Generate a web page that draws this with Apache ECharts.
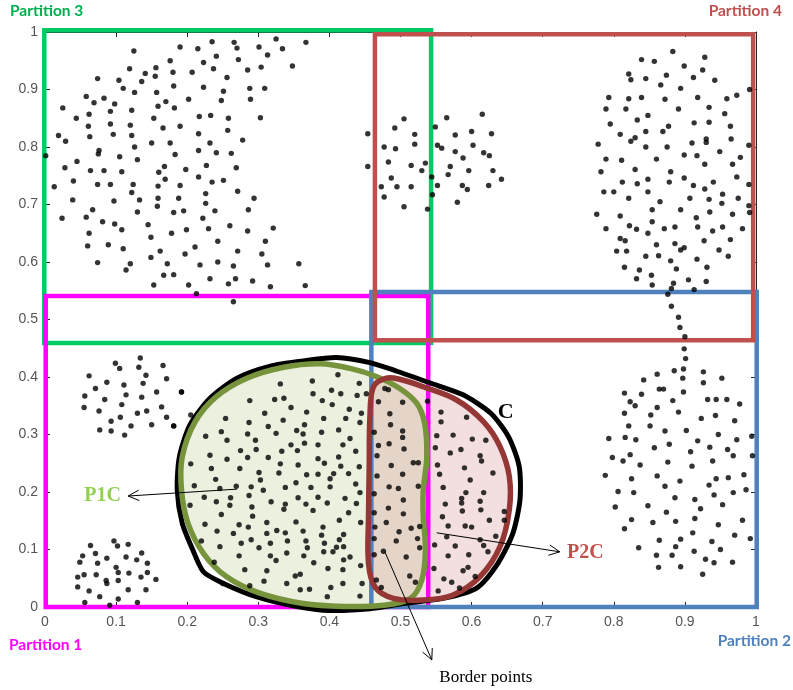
<!DOCTYPE html>
<html>
<head>
<meta charset="utf-8">
<script src="https://cdn.jsdelivr.net/npm/echarts@6/dist/echarts.min.js"></script>
<style>
  html, body { margin: 0; padding: 0; background: #fff; }
  #chart { width: 793px; height: 690px; }
</style>
</head>
<body>
<div id="chart"></div>
<script>
// ---- data points (x, y in axis units) ----
var topLeftPts = [
  [0.235,0.983],[0.266,0.982],[0.270,0.972],[0.325,0.988],[0.301,0.974],[0.334,0.971],[0.367,0.982],[0.190,0.974],
  [0.215,0.971],[0.125,0.967],[0.241,0.958],[0.313,0.960],[0.176,0.950],[0.223,0.947],[0.272,0.952],[0.348,0.941],
  [0.304,0.939],[0.119,0.936],[0.156,0.938],[0.237,0.936],[0.285,0.934],[0.141,0.928],[0.180,0.930],[0.207,0.930],
  [0.155,0.923],[0.256,0.921],[0.074,0.919],[0.104,0.916],[0.136,0.914],[0.181,0.906],[0.223,0.904],[0.288,0.902],
  [0.309,0.902],[0.110,0.902],[0.126,0.895],[0.157,0.895],[0.251,0.897],[0.058,0.888],[0.083,0.885],[0.069,0.877],
  [0.098,0.875],[0.159,0.871],[0.170,0.879],[0.182,0.868],[0.202,0.883],[0.248,0.881],[0.289,0.883],[0.122,0.864],
  [0.092,0.862],[0.025,0.868],[0.062,0.857],[0.044,0.850],[0.153,0.850],[0.217,0.853],[0.233,0.855],[0.258,0.850],
  [0.303,0.851],[0.092,0.840],[0.120,0.838],[0.061,0.836],[0.166,0.833],[0.190,0.836],[0.257,0.829],[0.216,0.823],
  [0.019,0.820],[0.063,0.818],[0.096,0.822],[0.122,0.820],[0.029,0.810],[0.150,0.807],[0.176,0.807],[0.232,0.807],
  [0.278,0.812],[0.126,0.800],[0.076,0.794],[0.075,0.788],[0.105,0.783],[0.183,0.787],[0.216,0.794],[0.241,0.790],
  [0.262,0.789],[0.045,0.775],[0.130,0.778],[0.028,0.764],[0.064,0.759],[0.083,0.759],[0.108,0.757],[0.168,0.766],
  [0.160,0.756],[0.198,0.761],[0.227,0.768],[0.269,0.764],[0.001,0.785],[0.013,0.731],[0.040,0.741],[0.074,0.735],
  [0.092,0.735],[0.124,0.735],[0.169,0.744],[0.159,0.732],[0.190,0.733],[0.216,0.748],[0.235,0.739],[0.251,0.742],
  [0.122,0.721],[0.271,0.723],[0.226,0.719],[0.039,0.708],[0.097,0.706],[0.133,0.708],[0.159,0.711],[0.188,0.711],
  [0.226,0.702],[0.294,0.711],[0.067,0.691],[0.130,0.687],[0.158,0.697],[0.181,0.686],[0.195,0.689],[0.239,0.689],
  [0.286,0.691],[0.024,0.676],[0.058,0.678],[0.081,0.670],[0.098,0.666],[0.145,0.665],[0.108,0.656],[0.062,0.650],
  [0.199,0.656],[0.178,0.650],[0.230,0.658],[0.260,0.663],[0.285,0.654],[0.321,0.659],[0.222,0.676],[0.149,0.643],
  [0.060,0.628],[0.089,0.630],[0.110,0.623],[0.162,0.619],[0.211,0.626],[0.243,0.636],[0.310,0.636],[0.271,0.619],
  [0.197,0.614],[0.305,0.614],[0.149,0.608],[0.074,0.599],[0.120,0.597],[0.114,0.586],[0.172,0.597],[0.218,0.595],
  [0.243,0.600],[0.265,0.593],[0.313,0.595],[0.357,0.597],[0.167,0.577],[0.181,0.578],[0.232,0.571],[0.268,0.571],
  [0.258,0.562],[0.292,0.567],[0.317,0.557],[0.153,0.560],[0.202,0.560],[0.366,0.559],[0.213,0.545],[0.265,0.531]
];
var topMidPts = [
  [0.454,0.823],[0.454,0.766],[0.505,0.849],[0.492,0.833],[0.520,0.822],[0.520,0.805],[0.477,0.800],[0.493,0.797],
  [0.483,0.774],[0.515,0.768],[0.530,0.759],[0.535,0.772],[0.487,0.746],[0.473,0.731],[0.495,0.731],[0.515,0.731],
  [0.477,0.713],[0.505,0.696],[0.538,0.692],[0.545,0.717],[0.544,0.748],[0.549,0.835],[0.565,0.851],[0.552,0.803],
  [0.558,0.798],[0.577,0.821],[0.600,0.827],[0.615,0.857],[0.628,0.823],[0.602,0.803],[0.577,0.792],[0.588,0.781],
  [0.617,0.790],[0.625,0.785],[0.570,0.766],[0.567,0.752],[0.596,0.759],[0.630,0.759],[0.642,0.744],[0.552,0.733],
  [0.587,0.733],[0.594,0.726],[0.624,0.733],[0.580,0.704]
];
var topRightPts = [
  [0.883,0.966],[0.839,0.952],[0.857,0.949],[0.928,0.956],[0.899,0.941],[0.925,0.934],[0.821,0.927],[0.824,0.917],
  [0.845,0.919],[0.874,0.925],[0.912,0.921],[0.942,0.916],[0.866,0.908],[0.894,0.902],[0.793,0.886],[0.821,0.884],
  [0.839,0.886],[0.872,0.883],[0.918,0.886],[0.959,0.884],[0.973,0.890],[0.789,0.866],[0.817,0.866],[0.891,0.866],
  [0.934,0.869],[0.956,0.858],[0.848,0.855],[0.833,0.847],[0.795,0.840],[0.877,0.836],[0.913,0.842],[0.934,0.843],
  [0.964,0.836],[0.845,0.827],[0.869,0.827],[0.809,0.822],[0.830,0.816],[0.824,0.810],[0.930,0.814],[0.930,0.808],
  [0.965,0.814],[0.778,0.805],[0.910,0.807],[0.845,0.800],[0.875,0.800],[0.949,0.792],[0.990,0.803],[0.789,0.779],
  [0.811,0.777],[0.860,0.779],[0.899,0.786],[0.917,0.785],[0.978,0.782],[0.782,0.757],[0.830,0.761],[0.880,0.757],
  [0.928,0.770],[0.967,0.770],[0.848,0.744],[0.812,0.739],[0.833,0.736],[0.878,0.739],[0.899,0.746],[0.973,0.748],
  [0.912,0.733],[0.928,0.727],[0.940,0.739],[0.990,0.735],[0.786,0.722],[0.800,0.722],[0.848,0.722],[0.821,0.711],
  [0.865,0.705],[0.907,0.711],[0.934,0.709],[0.953,0.718],[0.952,0.702],[0.975,0.711],[0.854,0.691],[0.894,0.691],
  [0.935,0.687],[0.990,0.698],[0.776,0.683],[0.809,0.680],[0.916,0.677],[0.967,0.683],[0.854,0.670],[0.822,0.663],
  [0.832,0.657],[0.886,0.661],[0.918,0.661],[0.953,0.661],[0.789,0.658],[0.871,0.658],[0.939,0.654],[0.981,0.658],
  [0.848,0.650],[0.809,0.641],[0.816,0.637],[0.927,0.637],[0.964,0.639],[0.860,0.630],[0.886,0.632],[0.894,0.621],
  [0.899,0.625],[0.804,0.619],[0.818,0.619],[0.948,0.621],[0.845,0.610],[0.863,0.611],[0.961,0.610],[0.880,0.602],
  [0.917,0.605],[0.815,0.591],[0.836,0.586],[0.888,0.588],[0.931,0.591],[0.832,0.571],[0.853,0.577],[0.854,0.560],
  [0.884,0.563],[0.905,0.569],[0.930,0.566],[0.881,0.554],[0.913,0.552],[0.991,0.900],[0.991,0.686]
];
var bridgePts = [
  [0.876,0.544],[0.881,0.523],[0.891,0.504],[0.893,0.486],[0.900,0.470],[0.899,0.449],[0.901,0.432]
];
var bottomRightPts = [
  [0.898,0.414],[0.885,0.411],[0.861,0.405],[0.842,0.395],[0.897,0.398],[0.926,0.409],[0.926,0.390],[0.952,0.398],
  [0.864,0.379],[0.870,0.379],[0.815,0.372],[0.839,0.370],[0.898,0.374],[0.823,0.357],[0.830,0.350],[0.883,0.359],
  [0.932,0.361],[0.944,0.361],[0.959,0.361],[0.977,0.353],[0.861,0.347],[0.815,0.337],[0.852,0.334],[0.891,0.339],
  [0.923,0.328],[0.943,0.333],[0.970,0.324],[0.821,0.315],[0.851,0.315],[0.872,0.306],[0.902,0.307],[0.793,0.293],
  [0.816,0.295],[0.831,0.291],[0.918,0.289],[0.947,0.300],[0.973,0.291],[0.994,0.297],[0.857,0.277],[0.878,0.283],
  [0.935,0.278],[0.960,0.274],[0.798,0.260],[0.823,0.265],[0.813,0.254],[0.837,0.247],[0.876,0.252],[0.908,0.270],
  [0.910,0.245],[0.939,0.254],[0.968,0.263],[0.995,0.263],[0.788,0.229],[0.825,0.223],[0.861,0.228],[0.893,0.219],
  [0.934,0.212],[0.944,0.223],[0.961,0.225],[0.983,0.230],[0.806,0.201],[0.828,0.199],[0.872,0.210],[0.941,0.195],
  [0.968,0.199],[0.986,0.204],[0.802,0.174],[0.848,0.176],[0.886,0.190],[0.914,0.187],[0.922,0.171],[0.953,0.178],
  [0.874,0.165],[0.825,0.152],[0.855,0.147],[0.887,0.149],[0.914,0.154],[0.947,0.143],[0.981,0.151],[0.815,0.136],
  [0.911,0.129],[0.970,0.125],[0.992,0.119],[0.864,0.116],[0.894,0.118],[0.835,0.103],[0.887,0.105],[0.938,0.114],
  [0.860,0.090],[0.882,0.090],[0.913,0.097],[0.950,0.100],[0.929,0.083],[0.941,0.077],[0.967,0.078],[0.863,0.069],
  [0.894,0.070],[0.925,0.057]
];
var leftUpperPts = [
  [0.099,0.424],[0.105,0.415],[0.134,0.433],[0.132,0.417],[0.166,0.420],[0.062,0.402],[0.142,0.403],[0.171,0.397],
  [0.087,0.391],[0.111,0.386],[0.138,0.389],[0.071,0.380],[0.157,0.374],[0.192,0.374],[0.056,0.367],[0.114,0.369],
  [0.136,0.365],[0.084,0.361],[0.108,0.352],[0.055,0.347],[0.076,0.341],[0.130,0.337],[0.143,0.341],[0.164,0.348],
  [0.106,0.330],[0.093,0.323],[0.171,0.330],[0.121,0.315],[0.150,0.317],[0.181,0.315],[0.077,0.308],[0.093,0.306],
  [0.112,0.299],[0.205,0.334]
];
var leftLowerPts = [
  [0.097,0.115],[0.064,0.107],[0.102,0.106],[0.117,0.109],[0.053,0.089],[0.071,0.093],[0.136,0.094],[0.049,0.078],
  [0.074,0.076],[0.087,0.085],[0.114,0.087],[0.129,0.082],[0.100,0.069],[0.144,0.076],[0.055,0.056],[0.072,0.056],
  [0.103,0.060],[0.118,0.059],[0.135,0.052],[0.144,0.060],[0.046,0.052],[0.086,0.046],[0.103,0.046],[0.156,0.048],
  [0.046,0.035],[0.087,0.041],[0.117,0.030],[0.142,0.030],[0.062,0.028],[0.077,0.018],[0.103,0.014],[0.130,0.008],
  [0.056,0.008],[0.091,0.003]
];
var centralPts = [
  [0.412,0.404],[0.376,0.393],[0.331,0.388],[0.442,0.389],[0.403,0.377],[0.377,0.371],[0.288,0.359],[0.323,0.361],
  [0.336,0.363],[0.390,0.359],[0.416,0.371],[0.439,0.368],[0.452,0.371],[0.469,0.357],[0.478,0.380],[0.483,0.378],
  [0.404,0.352],[0.346,0.347],[0.368,0.339],[0.428,0.344],[0.445,0.337],[0.309,0.337],[0.254,0.328],[0.287,0.321],
  [0.335,0.325],[0.365,0.317],[0.392,0.328],[0.423,0.328],[0.443,0.321],[0.485,0.336],[0.486,0.317],[0.503,0.356],
  [0.538,0.358],[0.557,0.339],[0.557,0.322],[0.593,0.330],[0.248,0.305],[0.226,0.297],[0.285,0.301],[0.314,0.314],
  [0.325,0.302],[0.354,0.307],[0.363,0.301],[0.389,0.304],[0.413,0.308],[0.429,0.293],[0.463,0.304],[0.503,0.306],
  [0.503,0.295],[0.551,0.298],[0.574,0.299],[0.601,0.292],[0.620,0.290],[0.256,0.290],[0.296,0.290],[0.346,0.282],
  [0.365,0.285],[0.384,0.282],[0.419,0.282],[0.484,0.284],[0.469,0.281],[0.549,0.277],[0.585,0.274],[0.505,0.275],
  [0.232,0.264],[0.275,0.272],[0.297,0.274],[0.314,0.260],[0.333,0.271],[0.355,0.272],[0.384,0.258],[0.413,0.261],
  [0.437,0.271],[0.256,0.257],[0.285,0.260],[0.331,0.249],[0.356,0.247],[0.393,0.250],[0.416,0.245],[0.442,0.244],
  [0.467,0.263],[0.487,0.246],[0.518,0.251],[0.525,0.251],[0.552,0.247],[0.570,0.268],[0.590,0.242],[0.612,0.263],
  [0.614,0.254],[0.205,0.249],[0.234,0.241],[0.274,0.241],[0.301,0.234],[0.329,0.233],[0.368,0.230],[0.384,0.231],
  [0.406,0.232],[0.427,0.232],[0.467,0.228],[0.503,0.231],[0.555,0.231],[0.630,0.233],[0.240,0.222],[0.303,0.221],
  [0.353,0.216],[0.401,0.223],[0.437,0.214],[0.210,0.211],[0.246,0.206],[0.269,0.210],[0.290,0.209],[0.307,0.203],
  [0.338,0.208],[0.374,0.208],[0.401,0.209],[0.484,0.209],[0.497,0.206],[0.525,0.210],[0.560,0.208],[0.598,0.221],
  [0.617,0.199],[0.586,0.189],[0.224,0.191],[0.261,0.190],[0.287,0.194],[0.356,0.190],[0.384,0.191],[0.422,0.189],
  [0.443,0.199],[0.463,0.197],[0.504,0.186],[0.592,0.199],[0.612,0.184],[0.241,0.183],[0.318,0.183],[0.338,0.179],
  [0.367,0.179],[0.397,0.181],[0.438,0.180],[0.483,0.172],[0.563,0.179],[0.586,0.181],[0.587,0.167],[0.204,0.177],
  [0.260,0.177],[0.291,0.174],[0.336,0.170],[0.377,0.168],[0.427,0.164],[0.463,0.164],[0.504,0.162],[0.613,0.169],
  [0.646,0.166],[0.248,0.161],[0.292,0.158],[0.353,0.148],[0.414,0.151],[0.444,0.147],[0.480,0.147],[0.559,0.157],
  [0.591,0.141],[0.625,0.151],[0.225,0.144],[0.273,0.143],[0.286,0.139],[0.312,0.147],[0.326,0.133],[0.363,0.132],
  [0.391,0.139],[0.464,0.139],[0.515,0.137],[0.527,0.140],[0.567,0.141],[0.600,0.139],[0.646,0.151],[0.242,0.132],
  [0.265,0.128],[0.312,0.128],[0.338,0.129],[0.389,0.125],[0.420,0.126],[0.498,0.131],[0.463,0.119],[0.565,0.122],
  [0.612,0.117],[0.634,0.123],[0.220,0.115],[0.276,0.111],[0.290,0.117],[0.317,0.111],[0.341,0.115],[0.367,0.115],
  [0.393,0.111],[0.410,0.104],[0.414,0.117],[0.494,0.115],[0.524,0.119],[0.246,0.105],[0.301,0.103],[0.340,0.094],
  [0.369,0.103],[0.420,0.105],[0.476,0.097],[0.527,0.103],[0.548,0.108],[0.577,0.106],[0.617,0.107],[0.238,0.078],
  [0.273,0.089],[0.317,0.089],[0.325,0.081],[0.364,0.089],[0.378,0.077],[0.392,0.096],[0.405,0.096],[0.420,0.082],
  [0.429,0.087],[0.508,0.087],[0.567,0.089],[0.596,0.091],[0.623,0.096],[0.463,0.091],[0.281,0.065],[0.312,0.063],
  [0.352,0.054],[0.359,0.057],[0.398,0.067],[0.419,0.065],[0.444,0.072],[0.547,0.067],[0.588,0.063],[0.595,0.069],
  [0.466,0.047],[0.513,0.054],[0.561,0.049],[0.605,0.053],[0.250,0.041],[0.288,0.037],[0.308,0.045],[0.340,0.041],
  [0.372,0.031],[0.402,0.034],[0.419,0.041],[0.446,0.041],[0.473,0.034],[0.521,0.043],[0.553,0.028],[0.572,0.043],
  [0.583,0.033],[0.359,0.030],[0.443,0.019],[0.397,0.018],[0.192,0.374],[0.181,0.315]
];

// ---- partition boxes: [xmin, xmax, ymin, ymax] ----
var partition1 = [0.001, 0.539, 0.000, 0.541];
var partition2 = [0.459, 1.001, 0.000, 0.548];
var partition3 = [-0.001, 0.543, 0.459, 1.003];
var partition4 = [0.464, 0.996, 0.464, 0.996];

// ---- hand drawn regions (outline vertices) ----
var clusterC = [
  [0.410,0.434],[0.363,0.428],[0.317,0.419],[0.270,0.398],[0.232,0.363],[0.204,0.317],[0.189,0.261],[0.186,0.203],
  [0.193,0.146],[0.208,0.099],[0.223,0.061],[0.251,0.041],[0.297,0.018],[0.354,0.001],[0.401,-0.006],[0.457,-0.003],
  [0.504,0.006],[0.560,0.015],[0.607,0.033],[0.637,0.076],[0.658,0.128],[0.668,0.186],[0.667,0.244],[0.652,0.296],
  [0.627,0.337],[0.588,0.369],[0.541,0.390],[0.495,0.410],[0.457,0.425]
];
var regionP1C = [
  [0.387,0.423],[0.336,0.417],[0.284,0.398],[0.241,0.366],[0.211,0.322],[0.193,0.261],[0.192,0.203],[0.201,0.146],
  [0.223,0.093],[0.255,0.053],[0.302,0.024],[0.363,0.006],[0.420,0.001],[0.476,0.003],[0.514,0.015],[0.530,0.047],
  [0.535,0.099],[0.532,0.157],[0.532,0.203],[0.537,0.261],[0.534,0.319],[0.523,0.354],[0.499,0.380],[0.466,0.401],
  [0.429,0.415]
];
var regionP2C = [
  [0.480,0.398],[0.462,0.383],[0.457,0.331],[0.456,0.244],[0.455,0.157],[0.455,0.076],[0.464,0.035],[0.490,0.015],
  [0.532,0.012],[0.574,0.021],[0.612,0.053],[0.640,0.105],[0.653,0.169],[0.653,0.227],[0.640,0.279],[0.617,0.322],
  [0.579,0.360],[0.532,0.383],[0.499,0.396]
];

// ---- annotations: label text, label anchor, arrow tail, arrow head ----
var notes = [
  { text: 'C',             at: [0.648, 0.339],  from: null,           to: null },
  { text: 'P1C',           at: [0.081, 0.193],  from: [0.270, 0.205], to: [0.117, 0.193] },
  { text: 'P2C',           at: [0.760, 0.094],  from: [0.551, 0.129], to: [0.724, 0.096] },
  { text: 'Border points', at: [0.620, -0.122], from: [0.478, 0.096], to: [0.544, -0.092] }
];
var noteColors = ['#000', '#92d050', '#c0504d', '#000'];
var noteFonts = ['bold 22px', 'bold 20px', 'bold 20px', '17px'];

var tickLabels = ['0','0.1','0.2','0.3','0.4','0.5','0.6','0.7','0.8','0.9','1'];

var chart = echarts.init(document.getElementById('chart'));

function shape(name, pts, z, style, smooth) {
  return {
    type: 'custom', name: name, coordinateSystem: 'cartesian2d', clip: false, silent: true, z: z,
    data: [pts[0]],
    renderItem: function (params, api) {
      return {
        type: 'polygon',
        shape: { points: pts.map(function (p) { return api.coord(p); }), smooth: smooth || 0 },
        style: style
      };
    }
  };
}

function box(name, b, color, z) {
  var pts = [[b[0], b[2]], [b[1], b[2]], [b[1], b[3]], [b[0], b[3]]];
  return shape(name, pts, z, { fill: 'none', stroke: color, lineWidth: 4.5, lineJoin: 'miter' }, 0);
}

function arrowHead(tip, tail, len) {
  var a = Math.atan2(tail[1] - tip[1], tail[0] - tip[0]);
  var w = 0.45;
  return [
    [tip[0] + len * Math.cos(a + w), tip[1] + len * Math.sin(a + w)],
    tip,
    [tip[0] + len * Math.cos(a - w), tip[1] + len * Math.sin(a - w)]
  ];
}

function axisBase(pos, show) {
  return {
    type: 'value', min: 0, max: 1, interval: 0.1, position: pos,
    axisLine: { show: true, onZero: false, lineStyle: { color: '#262626', width: 1 } },
    axisTick: { show: true, inside: true, length: 5, lineStyle: { color: '#262626' } },
    splitLine: { show: false },
    axisLabel: {
      show: show, color: '#555', fontSize: 14, fontFamily: 'Liberation Sans',
      formatter: function (v) { return tickLabels[Math.round(v * 10)]; }
    }
  };
}

var xBottom = axisBase('bottom', true); xBottom.axisLabel.margin = 8;
var yLeft = axisBase('left', true); yLeft.axisLabel.margin = 7;

var dotStyle = { color: '#000' };
var allPts = [].concat(topLeftPts, topMidPts, topRightPts, bridgePts, bottomRightPts, leftUpperPts, leftLowerPts, centralPts);

var option = {
  animation: false,
  grid: { left: 45, top: 32, width: 711, height: 575 },
  xAxis: [xBottom, axisBase('top', false)],
  yAxis: [yLeft, axisBase('right', false)],
  series: [
    shape('P1C fill', regionP1C, 1, { fill: '#ebf1de', stroke: 'none' }, 0.35),
    shape('P2C fill', regionP2C, 2, { fill: 'rgba(215,150,148,0.30)', stroke: 'none' }, 0.35),
    box('Partition 3', partition3, '#00cc66', 3),
    box('Partition 1', partition1, '#ff00ff', 4),
    box('Partition 2', partition2, '#4f81bd', 5),
    box('Partition 4', partition4, '#c0504d', 6),
    shape('C', clusterC, 7, { fill: 'none', stroke: '#000', lineWidth: 5 }, 0.25),
    shape('P1C', regionP1C, 8, { fill: 'none', stroke: '#77933c', lineWidth: 5.5 }, 0.35),
    shape('P2C', regionP2C, 9, { fill: 'none', stroke: '#953735', lineWidth: 5.5 }, 0.35),
    {
      type: 'scatter', name: 'points', data: allPts, symbolSize: 5.4, z: 10,
      itemStyle: dotStyle, silent: true
    },
    {
      type: 'custom', name: 'notes', coordinateSystem: 'cartesian2d', clip: false, silent: true, z: 11,
      data: notes.map(function (n) { return n.at; }),
      renderItem: function (params, api) {
        var i = params.dataIndex;
        var n = notes[i];
        var p = api.coord(n.at);
        var kids = [{
          type: 'text',
          style: {
            x: p[0], y: p[1], text: n.text, align: 'center', verticalAlign: 'middle',
            fill: noteColors[i], font: noteFonts[i] + ' "Liberation Serif"'
          }
        }];
        if (n.from) {
          var a = api.coord(n.from), b = api.coord(n.to);
          kids.push({ type: 'line', shape: { x1: a[0], y1: a[1], x2: b[0], y2: b[1] },
                      style: { stroke: '#000', lineWidth: 1 } });
          kids.push({ type: 'polyline', shape: { points: arrowHead(b, a, 12) },
                      style: { stroke: '#000', lineWidth: 1, fill: 'none' } });
        }
        return { type: 'group', children: kids };
      }
    }
  ],
  graphic: [
    { type: 'text', left: 10, top: 3, style: { text: 'Partition 3', fill: '#00b050', font: 'bold 15.5px Lato' } },
    { type: 'text', right: 11, top: 3, style: { text: 'Partition 4', fill: '#c0504d', font: 'bold 15.5px Lato' } },
    { type: 'text', left: 9, top: 637, style: { text: 'Partition 1', fill: '#ff00ff', font: 'bold 15.5px Lato' } },
    { type: 'text', right: 2, top: 633, style: { text: 'Partition 2', fill: '#4f81bd', font: 'bold 15.5px Lato' } }
  ]
};

chart.setOption(option);
window.addEventListener('resize', function () { chart.resize(); });
</script>
</body>
</html>
